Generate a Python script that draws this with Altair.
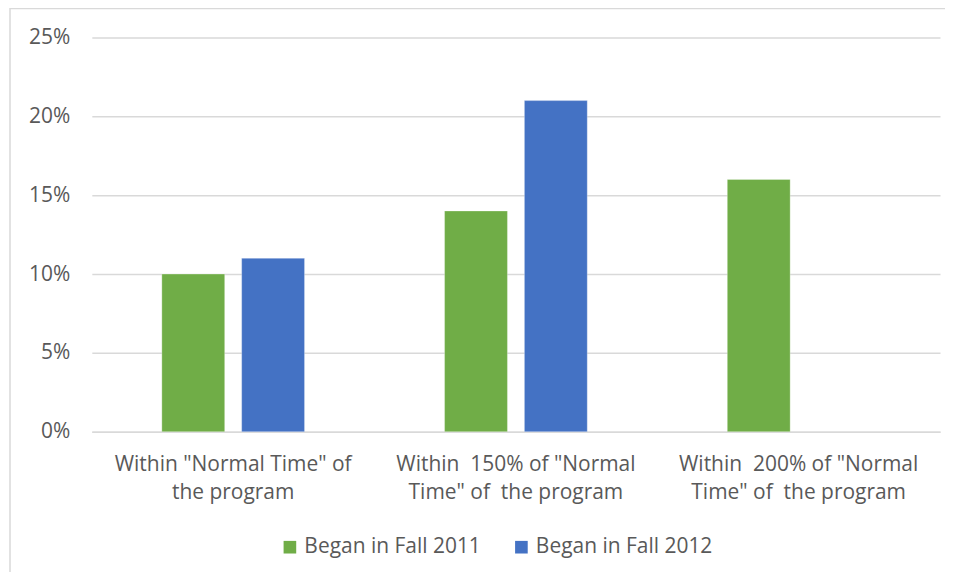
import altair as alt
import pandas as pd

NB = "\u00a0"
categories = [
    'Within "Normal Time" of|the program',
    'Within ' + NB + '150% of "Normal|Time" of ' + NB + 'the program',
    'Within ' + NB + '200% of "Normal|Time" of ' + NB + 'the program',
]
series = ["Began in Fall 2011", "Began in Fall 2012"]
fall_2011 = [0.10, 0.14, 0.16]
fall_2012 = [0.11, 0.21, None]
colors = ["#70AD47", "#4472C4"]

rows = []
for c, v1, v2 in zip(categories, fall_2011, fall_2012):
    if v1 is not None:
        rows.append({"category": c, "series": series[0], "value": v1})
    if v2 is not None:
        rows.append({"category": c, "series": series[1], "value": v2})
df = pd.DataFrame(rows)

FONT = "Open Sans"
TEXT = "#595959"
GRID = "#D9D9D9"

bars = alt.Chart(df).mark_bar(stroke="white", strokeWidth=0.5, strokeOpacity=0.6).encode(
    x=alt.X(
        "category:N",
        sort=categories,
        scale=alt.Scale(paddingInner=0, paddingOuter=0),
        axis=alt.Axis(
            title=None,
            labelAngle=0,
            labelExpr="split(datum.label, '|')",
            labelFont=FONT,
            labelFontSize=21,
            labelColor=TEXT,
            labelLineHeight=28,
            labelPadding=22,
            labelLimit=0,
            ticks=False,
            domainColor=GRID,
            domainWidth=1.5,
            grid=False,
        ),
    ),
    xOffset=alt.XOffset(
        "series:N",
        sort=series,
        scale=alt.Scale(domain=series, paddingInner=0.2125, paddingOuter=0.877),
    ),
    y=alt.Y(
        "value:Q",
        scale=alt.Scale(domain=[0, 0.25], nice=False),
        axis=alt.Axis(
            title=None,
            format=".0%",
            values=[0, 0.05, 0.10, 0.15, 0.20, 0.25],
            labelFont=FONT,
            labelFontSize=21,
            labelColor=TEXT,
            labelPadding=22,
            ticks=False,
            domain=False,
            gridColor=GRID,
            gridWidth=1.5,
        ),
    ),
    color=alt.Color(
        "series:N",
        sort=series,
        scale=alt.Scale(domain=series, range=colors),
        legend=alt.Legend(
            title=None,
            orient="none",
            direction="horizontal",
            legendX=188,
            legendY=500,
            symbolType="square",
            symbolSize=160,
            symbolStrokeWidth=0,
            labelFont=FONT,
            labelFontSize=21,
            labelColor=TEXT,
            labelOffset=4,
            labelLimit=0,
            columnPadding=30,
        ),
    ),
)

border = alt.Chart(pd.DataFrame({"k": [0]})).mark_rect(
    fill=None, stroke=GRID, strokeWidth=1.5, clip=False
).encode(
    x=alt.value(-82), x2=alt.value(858), y=alt.value(-29), y2=alt.value(540)
)

chart = alt.layer(border, bars).properties(
    width=850,
    height=395,
    autosize=alt.AutoSizeParams(type="none"),
    padding={"left": 84, "top": 29, "right": 5, "bottom": 140},
    background="white",
).configure_view(stroke=None)

chart.save("out.html", embed_options={"renderer": "svg", "actions": False})
